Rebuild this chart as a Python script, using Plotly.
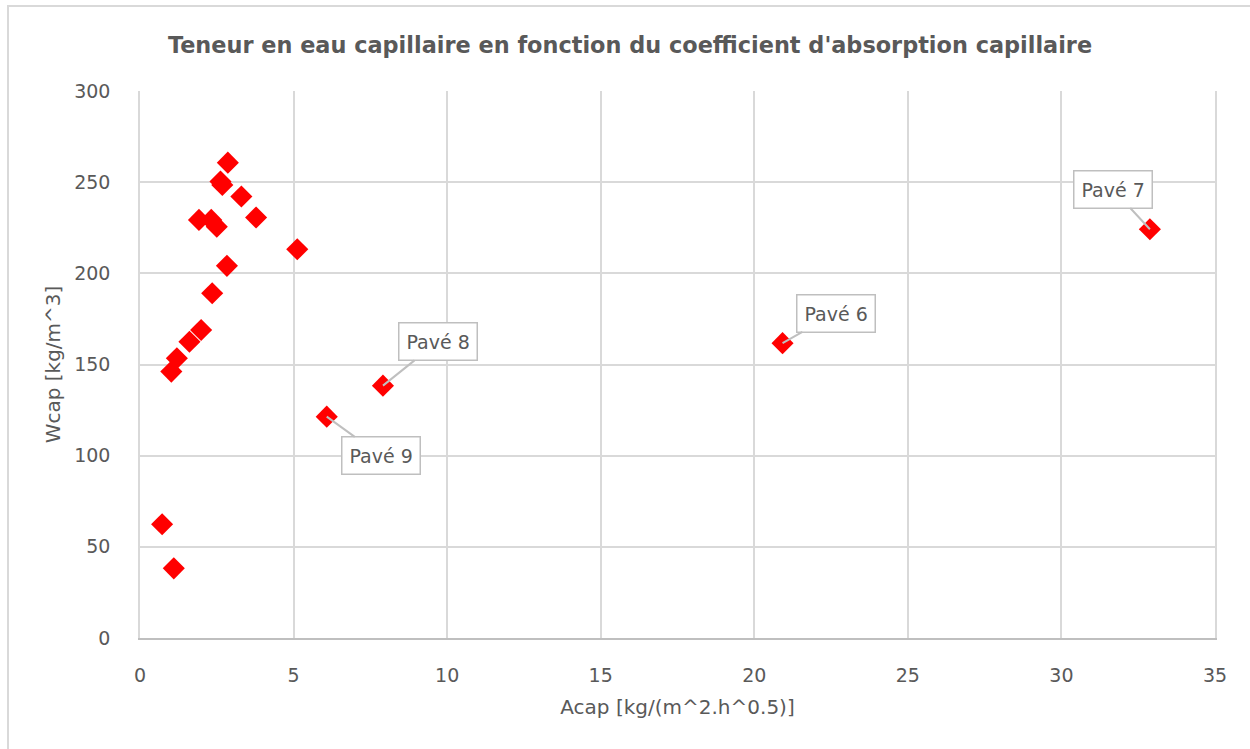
import plotly.graph_objects as go

# Capillary absorption coefficient vs capillary water content
acap = [0.72, 1.10, 1.02, 1.20, 1.61, 1.99, 2.35, 2.83, 5.12, 1.92, 2.32,
        2.50, 2.62, 2.68, 3.30, 3.78, 2.86, 6.08, 7.91, 20.92, 32.88]
wcap = [62.4, 38.2, 146.1, 153.4, 162.5, 168.9, 189.1, 204.1, 213.2, 229.3, 229.3,
        225.6, 250.3, 248.5, 242.1, 230.6, 260.7, 121.4, 138.4, 161.7, 224.2]

# Labelled samples: index into the arrays above, label text, callout offset (px)
label_idx = [17, 18, 19, 20]
label_txt = ["Pavé 9", "Pavé 8", "Pavé 6", "Pavé 7"]
label_ax = [54, 55, 53, -37]
label_ay = [39, -44, -30, -40]

x_ticks = [0, 5, 10, 15, 20, 25, 30, 35]
y_ticks = [0, 50, 100, 150, 200, 250, 300]

FONT = "'DejaVu Sans', sans-serif"
GREY_TXT = "#595959"
GRID = "#d9d9d9"

fig = go.Figure()
fig.add_trace(go.Scatter(
    x=acap, y=wcap, mode="markers",
    marker=dict(symbol="diamond", size=17, color="#ff0000", line=dict(width=0)),
    hoverinfo="x+y", showlegend=False,
))

for i, t, ax, ay in zip(label_idx, label_txt, label_ax, label_ay):
    fig.add_annotation(
        x=acap[i], y=wcap[i], text=t, showarrow=True,
        ax=ax, ay=ay, arrowhead=0, arrowwidth=2, arrowcolor="#bfbfbf",
        bgcolor="white", bordercolor="#bfbfbf", borderwidth=1.5, borderpad=7,
        font=dict(family=FONT, size=19, color=GREY_TXT),
    )

# Outer chart frame
fig.add_shape(type="rect", xref="paper", yref="paper",
              x0=-0.1228, x1=1.3, y0=-0.5, y1=1.1554,
              line=dict(color=GRID, width=2), layer="below")

fig.update_layout(
    width=1250, height=749,
    margin=dict(l=140, r=35, t=91, b=111),
    paper_bgcolor="white", plot_bgcolor="white",
    font=dict(family=FONT, color=GREY_TXT, size=16),
    title=dict(
        text="<b>Teneur en eau capillaire en fonction du coefficient d'absorption capillaire</b>",
        x=0.504, xref="container", xanchor="center",
        y=0.94, yref="container", yanchor="middle",
        font=dict(family=FONT, size=22.4, color=GREY_TXT),
    ),
    xaxis=dict(
        range=[0, 35], tickvals=x_ticks, showgrid=True, gridcolor=GRID, gridwidth=1.5,
        zeroline=False, showline=True, linecolor="#bfbfbf", linewidth=1.5,
        ticks="", ticklabelstandoff=19,
        title=dict(text="Acap [kg/(m^2.h^0.5)]", standoff=15,
                   font=dict(family=FONT, size=20, color=GREY_TXT)),
        tickfont=dict(family=FONT, size=19, color=GREY_TXT),
    ),
    yaxis=dict(
        range=[0, 300], tickvals=y_ticks, showgrid=True, gridcolor=GRID, gridwidth=1.5,
        zeroline=False, showline=True, mirror=True, linecolor=GRID, linewidth=1.5,
        ticks="", ticklabelstandoff=24,
        title=dict(text="Wcap [kg/m^3]", standoff=8,
                   font=dict(family=FONT, size=20, color=GREY_TXT)),
        tickfont=dict(family=FONT, size=19, color=GREY_TXT),
    ),
)

fig.write_html("out.html")
